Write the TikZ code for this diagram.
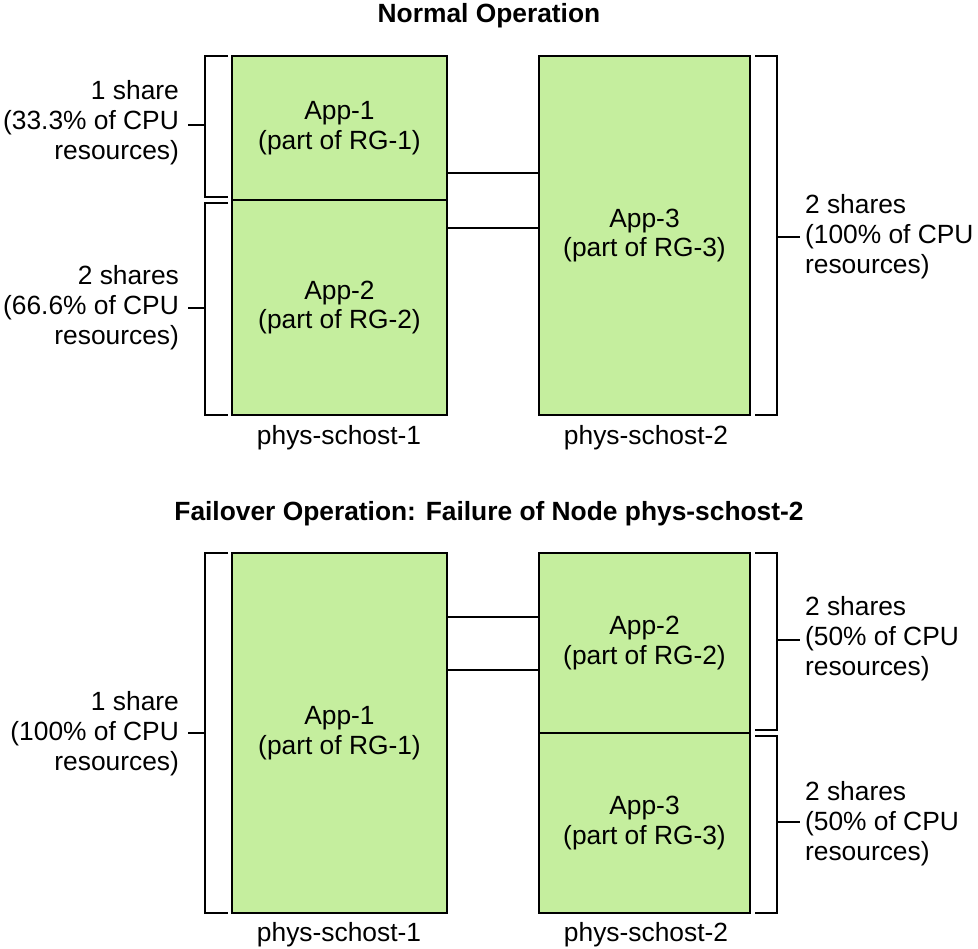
\documentclass[tikz,border=0pt]{standalone}
\usepackage{fontspec}
\setmainfont{Liberation Sans}
\usepackage{tikz}
\definecolor{appgreen}{HTML}{C5EE9E}
\tikzset{
  box/.style={draw=black, line width=1.2pt, fill=appgreen},
  boxtext/.style={align=center, font=\fontsize{15}{17}\selectfont},
  brace/.style={draw=black, line width=1pt},
  share/.style={font=\fontsize{15}{17}\selectfont, inner sep=1pt},
  title/.style={font=\fontsize{15}{17}\selectfont\bfseries},
  host/.style={font=\fontsize{15}{17}\selectfont},
  link/.style={draw=black, line width=1pt}
}
\begin{document}
\begin{tikzpicture}[x=0.02cm, y=-0.02cm]
    \useasboundingbox (0,0) rectangle (978,948);

    % === Normal operation ===
    \node[title] (t1) at (489,16) {Normal Operation};

    % Boxes
    \draw[box] (232,56) rectangle (447,200) node[boxtext, midway] (a1) {App-1\\(part of RG-1)};
    \draw[box] (232,200) rectangle (447,415) node[boxtext, midway] (a2) {App-2\\(part of RG-2)};
    \draw[box] (539,56) rectangle (750,415) node[boxtext, midway] (a3) {App-3\\(part of RG-3)};

    % Interconnect
    \coordinate (l1a) at (447,173); \coordinate (l1b) at (539,173);
    \coordinate (l2a) at (447,228); \coordinate (l2b) at (539,228);
    \draw[link] (l1a) -- (l1b);
    \draw[link] (l2a) -- (l2b);

    % Brackets
    \draw[brace] (228,56) -- (205,56) -- (205,197) -- (228,197);
    \draw[brace] (205,125) -- (188,125);
    \node[share, anchor=east, align=right] (s1) at (181,123) {1 share\\(33.3\% of CPU\\resources)};
    \draw[brace] (228,203) -- (205,203) -- (205,415) -- (228,415);
    \draw[brace] (205,308) -- (188,308);
    \node[share, anchor=east, align=right] (s2) at (181,308) {2 shares\\(66.6\% of CPU\\resources)};
    \draw[brace] (755,56) -- (777,56) -- (777,415) -- (755,415);
    \draw[brace] (777,237) -- (800,237);
    \node[share, anchor=west, align=left] (s3) at (803,237) {2 shares\\(100\% of CPU\\resources)};

    \node[host] (h1) at (339,438) {phys-schost-1};
    \node[host] (h2) at (646,438) {phys-schost-2};

    % === Failover operation ===
    \node[title] (t2) at (489,514) {Failover Operation: Failure of Node phys-schost-2};

    \draw[box] (232,553) rectangle (447,913) node[boxtext, midway] (b1) {App-1\\(part of RG-1)};
    \draw[box] (539,553) rectangle (750,733) node[boxtext, midway] (b2) {App-2\\(part of RG-2)};
    \draw[box] (539,733) rectangle (750,913) node[boxtext, midway] (b3) {App-3\\(part of RG-3)};

    \coordinate (m1a) at (447,617); \coordinate (m1b) at (539,617);
    \coordinate (m2a) at (447,670); \coordinate (m2b) at (539,670);
    \draw[link] (m1a) -- (m1b);
    \draw[link] (m2a) -- (m2b);

    \draw[brace] (228,553) -- (205,553) -- (205,913) -- (228,913);
    \draw[brace] (205,733) -- (188,733);
    \node[share, anchor=east, align=right] (s4) at (181,734) {1 share\\(100\% of CPU\\resources)};
    \draw[brace] (755,553) -- (777,553) -- (777,730) -- (755,730);
    \draw[brace] (777,640) -- (800,640);
    \node[share, anchor=west, align=left] (s5) at (803,639) {2 shares\\(50\% of CPU\\resources)};
    \draw[brace] (755,736) -- (777,736) -- (777,913) -- (755,913);
    \draw[brace] (777,822) -- (800,822);
    \node[share, anchor=west, align=left] (s6) at (803,824) {2 shares\\(50\% of CPU\\resources)};

    \node[host] (h3) at (339,935) {phys-schost-1};
    \node[host] (h4) at (646,935) {phys-schost-2};
\end{tikzpicture}
\end{document}
